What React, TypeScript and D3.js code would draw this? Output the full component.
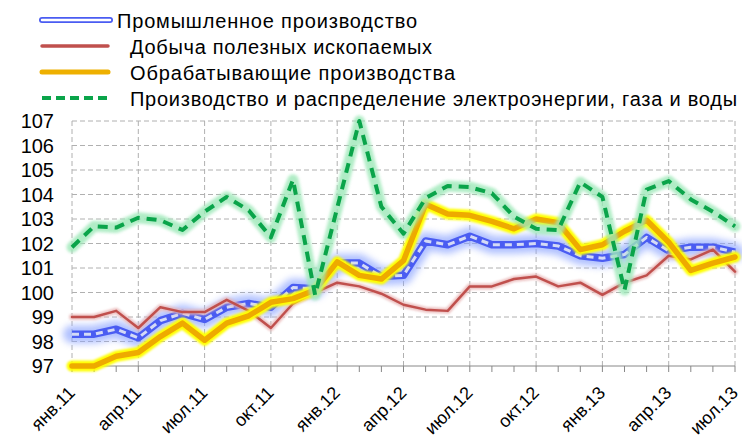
import React from "react";
import * as d3 from "d3";

const quarterLabels = ["янв.11", "апр.11", "июл.11", "окт.11", "янв.12", "апр.12", "июл.12", "окт.12", "янв.13", "апр.13", "июл.13"];
const yTicks = [97, 98, 99, 100, 101, 102, 103, 104, 105, 106, 107];

const industrial = [98.3, 98.3, 98.5, 98.15, 98.85, 99.15, 98.9, 99.4, 99.55, 99.4, 100.2, 100.15, 101.2, 101.2, 100.65, 100.7, 102.1, 101.95, 102.3, 101.95, 101.95, 102.0, 101.9, 101.5, 101.4, 101.55, 102.25, 101.7, 101.85, 101.85, 101.65];
const mining = [99.0, 99.0, 99.25, 98.55, 99.4, 99.2, 99.2, 99.7, 99.25, 98.55, 99.55, 100.0, 100.4, 100.25, 99.95, 99.5, 99.3, 99.25, 100.25, 100.25, 100.55, 100.65, 100.25, 100.4, 99.9, 100.4, 100.7, 101.5, 101.35, 101.75, 100.85];
const manufacturing = [97.0, 97.0, 97.4, 97.55, 98.2, 98.75, 98.05, 98.75, 99.05, 99.6, 99.75, 100.1, 101.25, 100.7, 100.55, 101.3, 103.6, 103.2, 103.15, 102.9, 102.6, 103.0, 102.85, 101.75, 101.95, 102.5, 102.95, 102.05, 100.9, 101.2, 101.45];
const electricity = [101.85, 102.7, 102.65, 103.05, 102.95, 102.55, 103.3, 103.9, 103.35, 102.25, 104.6, 99.9, 103.45, 107.0, 103.5, 102.4, 103.85, 104.35, 104.3, 104.05, 103.1, 102.6, 102.55, 104.5, 103.9, 100.1, 104.2, 104.55, 103.8, 103.3, 102.7];

const legendNames = [
  "Промышленное производство",
  "Добыча полезных ископаемых",
  "Обрабатывающие производства",
  "Производство и распределение электроэнергии, газа и воды",
];

export default function App() {
  const W = 742, H = 443;
  const x = d3.scaleLinear().domain([0, 30]).range([72, 735]);
  const y = d3.scaleLinear().domain([97, 107]).range([366, 121]);
  const line = d3.line<number>().x((_, i) => x(i)).y((d) => y(d));
  const months = d3.range(31);
  const quarters = d3.range(0, 31, 3);
  const font = "'Liberation Sans', Arial, sans-serif";
  const legendY = [20, 46, 72, 98];
  const legendX = [117, 130, 130, 130];
  const legendW = [300, 302, 325, 607];

  return (
    <svg width={W} height={H} style={{ position: "absolute", left: 0, top: 0, background: "#fff" }}>
      <defs>
        <filter id="blurBig" x="-10%" y="-20%" width="120%" height="140%">
          <feGaussianBlur stdDeviation="3.5" />
        </filter>
        <filter id="blurMid" x="-10%" y="-20%" width="120%" height="140%">
          <feGaussianBlur stdDeviation="1.6" />
        </filter>
        <filter id="blurSmall" x="-10%" y="-20%" width="120%" height="140%">
          <feGaussianBlur stdDeviation="1" />
        </filter>
      </defs>
      <rect width={W} height={H} fill="#fff" />
      {yTicks.slice(1).map((t) => (
        <line key={"h" + t} x1={72} x2={735} y1={y(t)} y2={y(t)} stroke="#b0b0b0" strokeWidth={1} strokeDasharray="5,3" />
      ))}
      {quarters.map((q) => (
        <line key={"v" + q} x1={x(q)} x2={x(q)} y1={121} y2={366} stroke="#b0b0b0" strokeWidth={1} strokeDasharray="5,3" />
      ))}
      <line x1={72} x2={735} y1={366} y2={366} stroke="#888" strokeWidth={1} />
      {months.map((m) => (
        <line key={"t" + m} x1={x(m)} x2={x(m)} y1={366} y2={372} stroke="#888" strokeWidth={1} />
      ))}
      {yTicks.map((t) => (
        <text key={"yl" + t} x={54} y={y(t) + 7} textAnchor="end" fontFamily={font} fontSize={20} fill="#000">
          {t}
        </text>
      ))}
      {quarters.map((q, i) => (
        <text
          key={"xl" + q}
          transform={`translate(${x(q) + 4},${394}) rotate(-45)`}
          textAnchor="end"
          fontFamily={font}
          fontSize={18}
          fill="#000"
        >
          {quarterLabels[i]}
        </text>
      ))}
      <g fill="none" strokeLinejoin="round" strokeLinecap="round">
        <path d={line(industrial) || ""} stroke="#8ea6ff" strokeWidth={18} opacity={0.7} filter="url(#blurBig)" />
        <path d={line(industrial) || ""} stroke="#4a5cf2" strokeWidth={7.5} strokeLinecap="butt" />
        <path d={line(industrial) || ""} stroke="#d4daf6" strokeWidth={3} strokeDasharray="7,5" strokeLinecap="butt" />
        <path d={line(mining) || ""} stroke="#e8b4b4" strokeWidth={6} opacity={0.8} filter="url(#blurSmall)" />
        <path d={line(mining) || ""} stroke="#c0504d" strokeWidth={2.5} />
        <path d={line(manufacturing) || ""} stroke="#ffff00" strokeWidth={11} filter="url(#blurSmall)" />
        <path d={line(manufacturing) || ""} stroke="#eeaa00" strokeWidth={5.5} />
        <path d={line(electricity) || ""} stroke="#9de8b8" strokeWidth={11} opacity={0.8} filter="url(#blurMid)" />
        <path d={line(electricity) || ""} stroke="#0aa44a" strokeWidth={4} strokeDasharray="10,7" strokeLinecap="butt" />
      </g>
      <g fill="none">
        <line x1={42} x2={110} y1={legendY[0]} y2={legendY[0]} stroke="#4a5cf2" strokeWidth={6} strokeLinecap="round" />
        <line x1={42} x2={110} y1={legendY[0]} y2={legendY[0]} stroke="#ffffff" strokeWidth={2.5} strokeLinecap="round" />
        <line x1={42} x2={108} y1={legendY[1]} y2={legendY[1]} stroke="#c0504d" strokeWidth={3.5} strokeLinecap="round" />
        <line x1={42} x2={108} y1={legendY[2]} y2={legendY[2]} stroke="#eeb000" strokeWidth={5} strokeLinecap="round" />
        <line x1={42} x2={108} y1={legendY[3]} y2={legendY[3]} stroke="#0aa44a" strokeWidth={4} strokeDasharray="9,5" />
      </g>
      {legendNames.map((n, i) => (
        <text
          key={"lg" + i}
          x={legendX[i]}
          y={legendY[i] + 7.5}
          fontFamily={font}
          fontSize={20}
          fill="#000"
          textLength={legendW[i]}
          lengthAdjust="spacing"
        >
          {n}
        </text>
      ))}
    </svg>
  );
}
